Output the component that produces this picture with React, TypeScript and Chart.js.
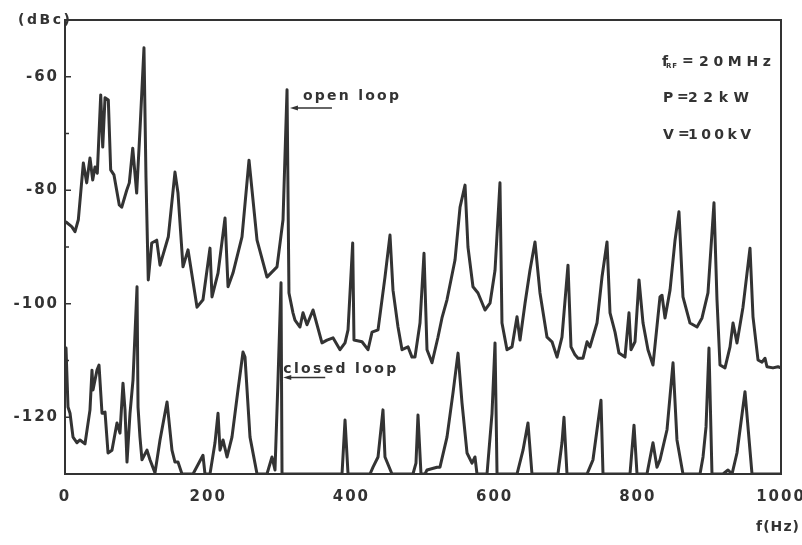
import { useEffect, useRef } from 'react';
import { Chart, registerables } from 'chart.js';

Chart.register(...registerables);

// open loop spectrum (Hz, dBc)
const openFreq = [1.4, 9.4, 14, 18.6, 25.6, 30.3, 34.9, 38.7, 41.9, 45.1, 49.9, 52.7, 55.9, 60.5, 63.8, 68.4, 75.8, 79.2, 86.2, 89.8, 94.6, 100.1, 104.7, 110.3, 113.1, 116.3, 121.1, 128.1, 132.7, 144.3, 153.6, 157.8, 164.8, 171.8, 184.4, 192.7, 202.5, 205.3, 213.7, 223.5, 227.7, 234.6, 247.2, 257.0, 268.2, 282.1, 296.1, 304.5, 310.1, 312.8, 318.4, 321.2, 328.2, 332.4, 338.0, 346.4, 358.9, 365.9, 374.3, 384.1, 391.1, 395.3, 401.8, 403.6, 414.8, 423.2, 428.8, 437.2, 446.9, 453.9, 458.1, 465.1, 470.7, 479.1, 484.6, 488.8, 495.8, 501.4, 505.6, 512.6, 520.9, 526.5, 533.5, 544.7, 551.7, 558.7, 562.8, 569.8, 576.8, 586.6, 593.6, 600.6, 607.5, 610.3, 617.3, 624.3, 631.3, 635.5, 642.5, 649.4, 656.4, 663.4, 673.2, 680.2, 687.2, 694.1, 702.5, 706.7, 712.3, 716.5, 723.5, 729.1, 733.2, 743.0, 750.0, 757.0, 761.2, 768.2, 773.7, 782.1, 787.7, 790.5, 796.1, 801.7, 807.3, 814.2, 821.2, 831.0, 833.8, 838.0, 845.0, 852.0, 857.5, 863.1, 872.9, 882.7, 889.7, 898.0, 906.4, 910.6, 914.8, 921.8, 928.8, 933.0, 938.5, 946.9, 956.7, 960.9, 967.9, 973.5, 977.7, 980.4, 988.8, 995.8, 1000];
const openLevel = [-85.6, -86.4, -87.3, -85.2, -75.2, -78.7, -74.3, -78.2, -75.9, -77.0, -63.2, -72.4, -63.7, -64.1, -76.4, -77.3, -82.6, -83.0, -80.0, -78.7, -72.6, -80.5, -69.4, -54.9, -77.7, -95.8, -89.3, -88.8, -93.2, -88.2, -76.8, -80.5, -93.5, -90.5, -100.6, -99.3, -90.2, -98.8, -94.6, -84.9, -97.0, -94.6, -88.2, -74.7, -88.8, -95.3, -93.5, -85.2, -62.3, -98.1, -101.6, -102.9, -104.1, -101.6, -103.7, -101.1, -106.9, -106.4, -106.0, -108.1, -106.9, -104.6, -89.3, -106.4, -106.7, -108.1, -105.0, -104.6, -95.3, -87.9, -97.6, -104.1, -108.1, -107.6, -109.4, -109.4, -103.4, -91.1, -108.1, -110.4, -105.9, -102.5, -99.3, -92.3, -83.0, -79.1, -90.0, -97.0, -98.1, -101.1, -99.9, -94.1, -78.7, -103.4, -108.1, -107.6, -102.3, -106.4, -99.9, -94.1, -89.1, -98.1, -105.9, -106.7, -109.4, -105.9, -93.2, -107.6, -109.0, -109.6, -109.6, -106.7, -107.6, -103.4, -95.3, -89.1, -101.6, -105.0, -108.7, -109.4, -101.6, -108.1, -106.7, -95.8, -103.4, -108.1, -110.8, -98.8, -98.5, -102.5, -97.6, -88.8, -83.8, -98.8, -103.4, -104.1, -102.5, -98.1, -82.2, -99.3, -110.8, -111.3, -107.6, -103.4, -106.9, -100.6, -90.2, -102.3, -109.9, -110.3, -109.6, -111.1, -111.3, -111.1, -111.3];

// closed loop spectrum (Hz, dBc)
const closedFreq = [1.4, 4.2, 7.0, 11.2, 16.8, 20.9, 27.9, 34.9, 37.7, 39.1, 44.7, 47.5, 51.7, 55.9, 60.1, 65.6, 72.6, 76.8, 81.0, 83.8, 86.6, 90.8, 95.0, 100.6, 102.0, 104.7, 107.5, 114.5, 118.7, 125.7, 132.7, 142.5, 149.4, 153.6, 157.8, 163.4, 178.8, 192.7, 195.5, 202.5, 209.5, 213.7, 216.5, 220.7, 226.3, 233.2, 241.6, 248.6, 251.4, 258.4, 268.2, 282.1, 289.1, 293.3, 297.5, 301.7, 303.1, 386.9, 391.1, 395.3, 426.0, 430.2, 437.2, 444.1, 446.9, 456.7, 486.0, 490.2, 493.0, 497.2, 502.8, 505.6, 519.6, 523.7, 533.5, 541.9, 548.9, 554.5, 561.5, 568.4, 572.6, 575.4, 589.4, 596.4, 600.6, 603.4, 631.3, 639.7, 646.6, 652.2, 688.5, 694.1, 696.9, 701.1, 729.1, 737.4, 748.6, 751.4, 789.1, 794.7, 798.9, 812.8, 821.2, 826.8, 831.0, 840.8, 849.2, 854.7, 863.1, 886.9, 891.1, 895.3, 899.4, 903.6, 919.0, 926.0, 931.6, 938.5, 949.7, 959.5, 988.8, 1000];
const closedLevel = [-107.8, -118.2, -119.3, -123.5, -124.5, -124.0, -124.7, -118.7, -111.7, -115.2, -111.7, -110.8, -119.3, -119.1, -126.3, -125.8, -121.0, -122.8, -114.0, -118.7, -127.9, -119.3, -113.4, -97.0, -118.2, -123.5, -127.5, -125.8, -127.5, -129.8, -124.0, -117.3, -125.8, -127.9, -127.9, -130, -130, -126.7, -130, -130, -124.5, -119.3, -125.8, -124.0, -127.0, -123.5, -115.2, -108.5, -109.4, -123.5, -130, -130, -127.0, -129.3, -113.4, -96.3, -130, -130, -120.5, -130, -130, -128.8, -127.0, -118.7, -127.0, -130, -130, -128.1, -119.6, -130, -130, -129.3, -128.8, -128.8, -123.5, -115.7, -108.7, -117.5, -126.3, -128.1, -127.0, -130, -130, -119.3, -106.9, -130, -130, -125.8, -121.0, -130, -130, -124.5, -120.0, -130, -130, -127.5, -117.0, -130, -130, -121.4, -130, -130, -124.5, -128.8, -127.5, -122.2, -110.4, -124.0, -130, -130, -127.0, -121.7, -107.8, -130, -130, -129.3, -130, -126.3, -115.5, -130, -130, -130];

const yLabelValues = [-60, -80, -100, -120];
const yMinorTicks = [-70, -90, -110];

const INK = '#333333';
const FONT = '"DejaVu Sans", "Liberation Sans", sans-serif';

function spacedText(ctx: CanvasRenderingContext2D, text: string, x0: number, x1: number, y: number, size: number) {
  ctx.save();
  (ctx as any).letterSpacing = '0px';
  ctx.font = `bold ${size}px ${FONT}`;
  const w = ctx.measureText(text).width;
  const n = text.length;
  const s = n > 1 ? Math.max(0, (x1 - x0 - w) / (n - 1)) : 0;
  (ctx as any).letterSpacing = `${s.toFixed(2)}px`;
  ctx.font = `bold ${size}px ${FONT}`;
  ctx.fillStyle = INK;
  ctx.textAlign = 'left';
  ctx.textBaseline = 'middle';
  ctx.fillText(text, x0, y);
  ctx.restore();
}

function arrow(ctx: CanvasRenderingContext2D, xTip: number, xEnd: number, y: number) {
  ctx.save();
  ctx.strokeStyle = INK;
  ctx.fillStyle = INK;
  ctx.lineWidth = 1.5;
  ctx.beginPath();
  ctx.moveTo(xTip + 4, y);
  ctx.lineTo(xEnd, y);
  ctx.stroke();
  ctx.beginPath();
  ctx.moveTo(xTip, y);
  ctx.lineTo(xTip + 8, y - 2.5);
  ctx.lineTo(xTip + 8, y + 2.5);
  ctx.closePath();
  ctx.fill();
  ctx.restore();
}

const decor = {
  id: 'decor',
  beforeDraw(chart: any) {
    const ctx = chart.ctx;
    ctx.save();
    ctx.fillStyle = '#ffffff';
    ctx.fillRect(0, 0, chart.width, chart.height);
    ctx.restore();
    ctx.letterSpacing = '2px';
  },
  afterDraw(chart: any) {
    const ctx: CanvasRenderingContext2D = chart.ctx;
    const { left, top, right, bottom } = chart.chartArea;
    const ys = chart.scales.y;
    const xs = chart.scales.x;
    ctx.save();
    ctx.strokeStyle = INK;
    ctx.lineWidth = 2;
    ctx.strokeRect(left, top, right - left, bottom - top);
    ctx.lineWidth = 1.5;
    yLabelValues.forEach((v) => {
      const y = ys.getPixelForValue(v);
      ctx.beginPath();
      ctx.moveTo(left, y);
      ctx.lineTo(left + 6, y);
      ctx.stroke();
    });
    yMinorTicks.forEach((v) => {
      const y = ys.getPixelForValue(v);
      ctx.beginPath();
      ctx.moveTo(left, y);
      ctx.lineTo(left + 4, y);
      ctx.stroke();
    });
    ctx.restore();

    // axis captions
    spacedText(ctx, '(dBc)', 18, 70, top, 14);
    spacedText(ctx, 'f(Hz)', 756, 799, 527, 14);

    // curve labels
    const xo = xs.getPixelForValue(310);
    spacedText(ctx, 'open loop', xo + 16, xo + 112, ys.getPixelForValue(-63.5), 14);
    arrow(ctx, xo + 3, xo + 45, ys.getPixelForValue(-65.5));
    const xc = xs.getPixelForValue(302);
    spacedText(ctx, 'closed loop', xc + 2, xc + 115, ys.getPixelForValue(-111.5), 14);
    arrow(ctx, xc + 2, xc + 44, ys.getPixelForValue(-113));

    // parameters
    spacedText(ctx, 'f', 662, 667, 62, 14);
    spacedText(ctx, 'RF', 666, 677, 66, 7);
    spacedText(ctx, '=', 682, 691, 61, 14);
    spacedText(ctx, '20MHz', 699, 771, 62, 14);
    spacedText(ctx, 'P', 663, 673, 98, 14);
    spacedText(ctx, '=', 677, 686, 97, 14);
    spacedText(ctx, '22kW', 688, 749, 98, 14);
    spacedText(ctx, 'V', 663, 673, 135, 14);
    spacedText(ctx, '=', 678, 687, 134, 14);
    spacedText(ctx, '100kV', 688, 751, 135, 14);
  },
};

export default function App() {
  const ref = useRef<HTMLCanvasElement>(null);
  useEffect(() => {
    if (!ref.current) return;
    const tickFont = { family: FONT, weight: 'bold' as const, size: 15 };
    const chart = new Chart(ref.current, {
      type: 'line',
      data: {
        datasets: [
          {
            label: 'open loop',
            data: openFreq.map((x, i) => ({ x, y: openLevel[i] })),
            borderColor: INK,
            borderWidth: 3,
            pointRadius: 0,
            tension: 0,
            fill: false,
          },
          {
            label: 'closed loop',
            data: closedFreq.map((x, i) => ({ x, y: closedLevel[i] })),
            borderColor: INK,
            borderWidth: 3,
            pointRadius: 0,
            tension: 0,
            fill: false,
          },
        ],
      },
      options: {
        responsive: false,
        animation: false,
        events: [],
        layout: { padding: { top: 20, right: 21, left: 0, bottom: 0 } },
        elements: { line: { borderJoinStyle: 'round', borderCapStyle: 'round' } },
        plugins: { legend: { display: false }, tooltip: { enabled: false } },
        scales: {
          x: {
            type: 'linear',
            min: 0,
            max: 1000,
            ticks: {
              stepSize: 200,
              color: INK,
              font: tickFont,
              padding: 14,
              maxRotation: 0,
              autoSkip: false,
              callback: (v: any) => String(v),
            },
            grid: { display: false, drawTicks: false },
            border: { display: false },
            afterFit: (s: any) => {
              s.height = 71;
              s.paddingLeft = 0;
              s.paddingRight = 0;
            },
          },
          y: {
            type: 'linear',
            min: -130,
            max: -50,
            ticks: {
              stepSize: 10,
              color: INK,
              font: tickFont,
              padding: 6,
              callback: (v: any) => (yLabelValues.includes(Number(v)) ? String(v) : ''),
            },
            grid: { display: false, drawTicks: false },
            border: { display: false },
            afterFit: (s: any) => {
              s.width = 65;
              s.paddingTop = 0;
              s.paddingBottom = 0;
            },
          },
        },
      },
      plugins: [decor],
    });
    return () => chart.destroy();
  }, []);
  return (
    <div style={{ position: 'absolute', left: 0, top: 0, width: 802, height: 545, background: '#fff' }}>
      <canvas ref={ref} width={802} height={545} style={{ display: 'block' }} />
    </div>
  );
}
